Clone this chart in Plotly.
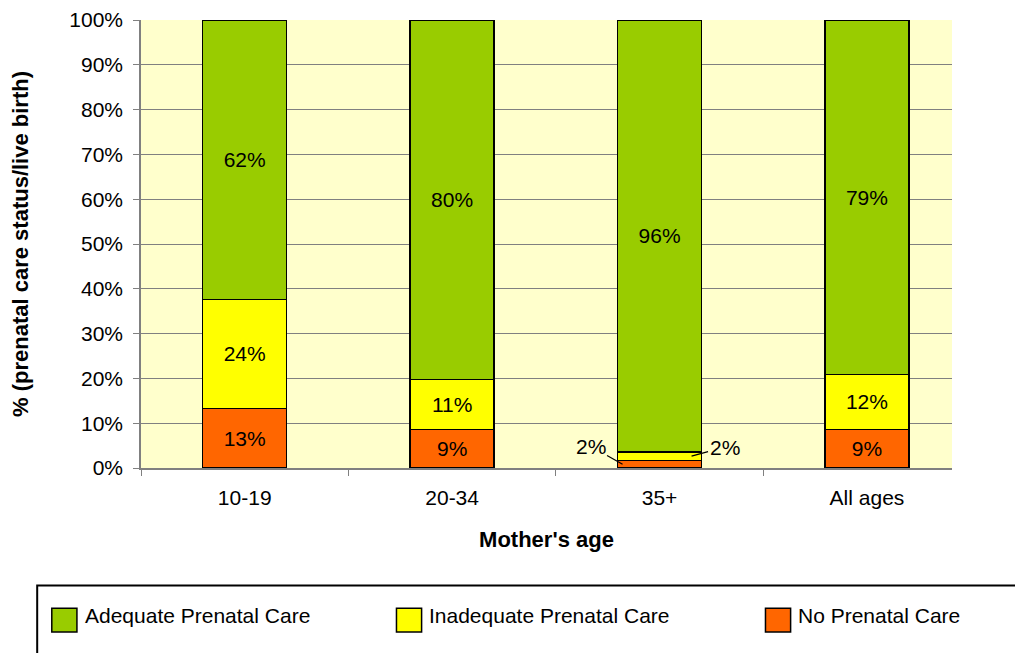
import plotly.graph_objects as go

# data
ages = ['10-19', '20-34', '35+', 'All ages']
no_care = [13.3, 8.6, 1.7, 8.6]
inadequate_care = [24.3, 11.2, 1.9, 12.3]
adequate_care = [62.4, 80.2, 96.4, 79.1]

series = [
    ('No Prenatal Care', no_care, '#FF6600'),
    ('Inadequate Prenatal Care', inadequate_care, '#FFFF00'),
    ('Adequate Prenatal Care', adequate_care, '#99CC00'),
]

FONT = 'Arial, Liberation Sans, sans-serif'

fig = go.Figure()
for name, vals, color in series:
    # small 35+ slices are labelled with callouts instead
    labels = [f'{round(v)}%' if v > 5 else '' for v in vals]
    fig.add_trace(go.Bar(
        x=ages, y=vals, name=name,
        marker=dict(color=color, line=dict(color='black', width=1.5)),
        text=labels, textposition='inside', insidetextanchor='middle',
        textangle=0, textfont=dict(color='black', size=21, family=FONT),
        hoverinfo='skip', showlegend=False,
    ))

# callouts for 35+
fig.add_annotation(x='35+', y=no_care[2] / 2, xshift=-37, ax=-32, ay=-18,
                   text=f'{round(no_care[2])}%', showarrow=True, arrowhead=0,
                   arrowwidth=1.2, arrowcolor='black',
                   font=dict(size=21, color='black', family=FONT))
fig.add_annotation(x='35+', y=no_care[2] + inadequate_care[2] / 2, xshift=32,
                   ax=33, ay=-9,
                   text=f'{round(inadequate_care[2])}%', showarrow=True, arrowhead=0,
                   arrowwidth=1.2, arrowcolor='black',
                   font=dict(size=21, color='black', family=FONT))

# legend box drawn by hand (big squares like the original)
fig.add_shape(type='rect', xref='paper', yref='paper',
              x0=-0.128, x1=1.2, y0=-0.6, y1=-0.262,
              line=dict(color='black', width=2), fillcolor='white')
legend_x = [-0.110, 0.315, 0.770]
for (name, vals, color), lx in zip(series[::-1], legend_x):
    fig.add_shape(type='rect', xref='paper', yref='paper',
                  x0=lx, x1=lx + 0.031, y0=-0.366, y1=-0.313,
                  line=dict(color='black', width=1.5), fillcolor=color)
    fig.add_annotation(xref='paper', yref='paper', x=lx + 0.038, y=-0.329,
                       text=name, showarrow=False, xanchor='left', yanchor='middle',
                       font=dict(size=21, color='black', family=FONT))

# page body has an 8px margin, so margins are trimmed to land the plot in place
fig.update_layout(
    barmode='stack',
    bargap=0.595,
    width=1023, height=653,
    margin=dict(l=133, r=79, t=12, b=193),
    plot_bgcolor='#FFFFCC',
    paper_bgcolor='white',
    font=dict(family=FONT, size=21, color='black'),
    xaxis=dict(
        title=dict(text="<b>Mother's age</b>", font=dict(size=22), standoff=24),
        range=[-0.5, 3.41],
        showline=True, linecolor='#808080', linewidth=1.5,
        ticks='outside', tickson='boundaries', ticklen=6, tickcolor='#808080',
        ticklabelstandoff=10,
        showgrid=False, automargin=False,
    ),
    yaxis=dict(
        title=dict(text='<b>% (prenatal care status/live birth)</b>', font=dict(size=22), standoff=44),
        range=[0, 100], dtick=10, ticksuffix='%',
        showline=True, linecolor='#808080', linewidth=1.5,
        ticks='outside', ticklen=6, tickcolor='#808080',
        ticklabelstandoff=6, ticklabeloverflow='allow',
        showgrid=True, gridcolor='#808080', gridwidth=1,
        zeroline=False, automargin=False,
    ),
)

fig.write_html('out.html')
